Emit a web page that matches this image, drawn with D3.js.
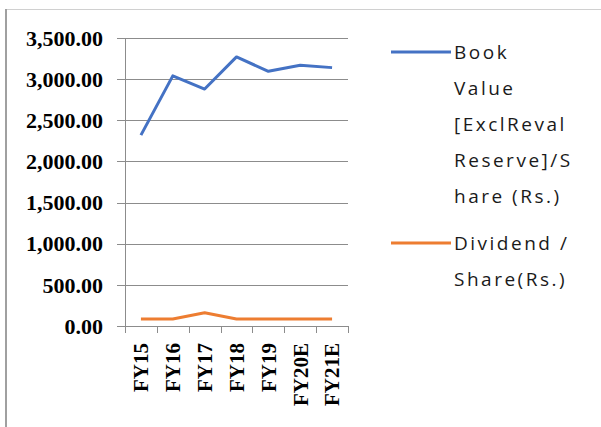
<!DOCTYPE html>
<html>
<head>
<meta charset="utf-8">
<script src="https://cdn.jsdelivr.net/npm/d3@7"></script>
<style>
  body { margin: 0; background: #fff; }
  svg { display: block; }
  .ytick text, .xtick text { font-family: "Liberation Serif", serif; font-weight: bold; fill: #000; }
  .legend text { font-family: "Open Sans", sans-serif; fill: #1a1a1a; }
</style>
</head>
<body>
<div id="chart"></div>
<script>
// chart values
var years = ['FY15', 'FY16', 'FY17', 'FY18', 'FY19', 'FY20E', 'FY21E'];
var bookValue = [2320, 3040, 2880, 3270, 3095, 3170, 3140];
var dividend = [85, 85, 160, 85, 85, 85, 85];
var yTicks = [0, 500, 1000, 1500, 2000, 2500, 3000, 3500];
var seriesNames = [
    ['Book', 'Value', '[ExclReval', 'Reserve]/S', 'hare (Rs.)'],
    ['Dividend /', 'Share(Rs.)']
];
var colors = ['#4472c4', '#ed7d31'];

var width = 601, height = 427;

var svg = d3.select('#chart').append('svg')
    .attr('width', width)
    .attr('height', height);

// frame of the chart object
svg.append('line')
    .attr('x1', 6).attr('x2', width).attr('y1', 9.5).attr('y2', 9.5)
    .attr('stroke', '#d0d0d0');
svg.append('line')
    .attr('x1', 6).attr('x2', 6).attr('y1', 9).attr('y2', height)
    .attr('stroke', '#a0a0a0').attr('stroke-width', 2);

var x = d3.scaleBand().domain(years).range([125, 348]);
var y = d3.scaleLinear().domain([0, 3500]).range([326, 38]);

// gridlines
svg.append('g').selectAll('line')
    .data(yTicks)
    .enter().append('line')
    .attr('x1', 117).attr('x2', 348)
    .attr('y1', function(d) { return Math.round(y(d)) + 0.5; })
    .attr('y2', function(d) { return Math.round(y(d)) + 0.5; })
    .attr('stroke', '#8c8c8c');

// y axis line
svg.append('line')
    .attr('x1', 125.5).attr('x2', 125.5)
    .attr('y1', y(3500)).attr('y2', y(0))
    .attr('stroke', '#8c8c8c');

// x ticks
var xEdges = years.map(function(d) { return x(d); }).concat([x.range()[1]]);
svg.append('g').selectAll('line')
    .data(xEdges)
    .enter().append('line')
    .attr('x1', function(d) { return Math.round(d) + 0.5; })
    .attr('x2', function(d) { return Math.round(d) + 0.5; })
    .attr('y1', y(0)).attr('y2', y(0) + 7)
    .attr('stroke', '#8c8c8c');

// y labels
svg.append('g').attr('class', 'ytick').selectAll('text')
    .data(yTicks)
    .enter().append('text')
    .attr('x', 103)
    .attr('y', function(d) { return y(d); })
    .attr('dy', '0.35em')
    .attr('text-anchor', 'end')
    .style('font-size', '22px')
    .style('letter-spacing', '0px')
    .text(function(d) { return d3.format(',.2f')(d); });

// x labels
svg.append('g').attr('class', 'xtick').selectAll('text')
    .data(years)
    .enter().append('text')
    .attr('transform', function(d) {
        return 'translate(' + (x(d) + x.bandwidth() / 2) + ',343) rotate(-90)';
    })
    .attr('dy', '0.35em')
    .attr('text-anchor', 'end')
    .style('font-size', '21px')
    .text(function(d) { return d; });

// lines
var line = d3.line()
    .x(function(d, i) { return x(years[i]) + x.bandwidth() / 2; })
    .y(function(d) { return y(d); });

[bookValue, dividend].forEach(function(s, i) {
    svg.append('path')
        .datum(s)
        .attr('d', line)
        .attr('fill', 'none')
        .attr('stroke', colors[i])
        .attr('stroke-width', 3)
        .attr('stroke-linejoin', 'round');
});

// legend
var legendTop = [52, 243];
var legend = svg.append('g').attr('class', 'legend');
seriesNames.forEach(function(lines, i) {
    legend.append('line')
        .attr('x1', 391).attr('x2', 451)
        .attr('y1', legendTop[i]).attr('y2', legendTop[i])
        .attr('stroke', colors[i])
        .attr('stroke-width', 3);
    legend.append('g').selectAll('text')
        .data(lines)
        .enter().append('text')
        .attr('x', 454)
        .attr('y', function(d, j) { return legendTop[i] + j * 36; })
        .attr('dy', '0.35em')
        .style('font-size', '19px')
        .style('letter-spacing', '2.5px')
        .text(function(d) { return d; });
});
</script>
</body>
</html>
